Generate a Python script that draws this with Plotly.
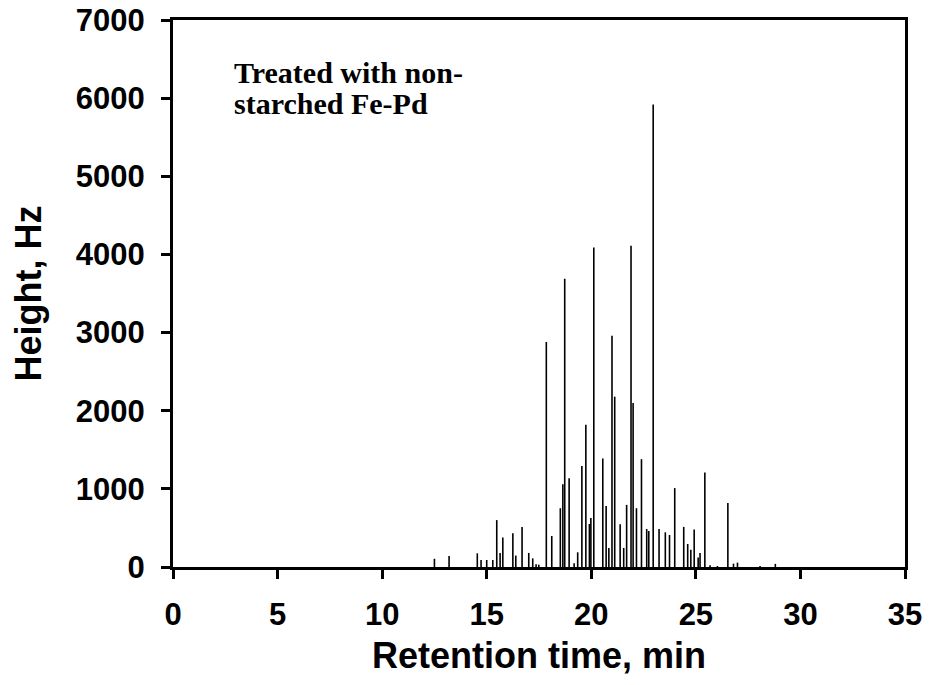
import plotly.graph_objects as go

retention_time = [12.50, 13.20, 14.55, 14.73, 15.00, 15.29, 15.48, 15.64, 15.77, 16.25, 16.39, 16.69,
                  17.01, 17.20, 17.36, 17.49, 17.85, 18.11, 18.52, 18.64, 18.73, 18.94, 19.18, 19.35,
                  19.55, 19.74, 19.91, 19.98, 20.12, 20.55, 20.71, 20.84, 20.99, 21.12, 21.38, 21.55,
                  21.69, 21.90, 22.00, 22.16, 22.40, 22.65, 22.75, 22.96, 23.24, 23.54, 23.74, 23.99,
                  24.42, 24.61, 24.76, 24.92, 25.11, 25.20, 25.43, 25.68, 26.03, 26.53, 26.80, 26.99,
                  28.07, 28.80]
height_hz = [105, 140, 175, 90, 90, 90, 600, 180, 377, 432, 146, 513,
             180, 110, 34, 30, 2880, 397, 752, 1060, 3690, 1137, 47, 188,
             1291, 1820, 551, 628, 4090, 1389, 782, 244, 2960, 2180, 547, 244,
             795, 4110, 2100, 752, 1380, 487, 462, 5920, 487, 444, 410, 1010,
             513, 295, 222, 479, 120, 180, 1210, 21, 13, 820, 43, 56,
             13, 40]

x_ticks = [0, 5, 10, 15, 20, 25, 30, 35]
y_ticks = [0, 1000, 2000, 3000, 4000, 5000, 6000, 7000]
note_lines = ["Treated with non-", "starched Fe-Pd"]

xs, ys = [], []
for t, h in zip(retention_time, height_hz):
    xs += [t, t, None]
    ys += [0, h, None]

fig = go.Figure()
fig.add_trace(go.Scatter(x=xs, y=ys, mode="lines",
                         line=dict(color="black", width=1.6),
                         hoverinfo="skip", showlegend=False))

axis_font = dict(family="Liberation Sans, Arial, sans-serif", size=31, color="black")
title_font = dict(family="Liberation Sans, Arial, sans-serif", size=36, color="black")

fig.update_layout(
    width=929, height=685,
    paper_bgcolor="white", plot_bgcolor="white",
    margin=dict(l=173, r=24, t=20, b=118),
    showlegend=False,
    xaxis=dict(range=[0, 35], tickvals=x_ticks, ticktext=[f"<b>{v}</b>" for v in x_ticks],
               tickfont=axis_font, showgrid=False, zeroline=False, automargin=False,
               showline=True, linecolor="black", linewidth=3, mirror=True,
               ticks="outside", ticklen=9, tickwidth=3, tickcolor="black",
               ticklabelstandoff=9, ticklabeloverflow="allow",
               title=dict(text="<b>Retention time, min</b>", font=title_font, standoff=12)),
    yaxis=dict(range=[0, 7000], tickvals=y_ticks, ticktext=[f"<b>{v}</b>" for v in y_ticks],
               tickfont=axis_font, showgrid=False, zeroline=False, automargin=False,
               showline=True, linecolor="black", linewidth=3, mirror=True,
               ticks="outside", ticklen=9, tickwidth=3, tickcolor="black",
               ticklabelstandoff=10, ticklabeloverflow="allow",
               title=dict(text="<b>Height, Hz</b>", font=title_font, standoff=24)),
    annotations=[
        dict(x=2.82, y=6330, xref="x", yref="y", xanchor="left", yanchor="middle",
             text=f"<b>{note_lines[0]}</b>", showarrow=False, align="left",
             font=dict(family="Liberation Serif, Times New Roman, serif", size=30, color="black")),
        dict(x=2.82, y=5930, xref="x", yref="y", xanchor="left", yanchor="middle",
             text=f"<b>{note_lines[1]}</b>", showarrow=False, align="left",
             font=dict(family="Liberation Serif, Times New Roman, serif", size=30, color="black")),
    ],
)

fig.write_html("out.html", config={"displayModeBar": False},
               post_script="document.body.style.margin='0';document.body.style.overflow='hidden';")
